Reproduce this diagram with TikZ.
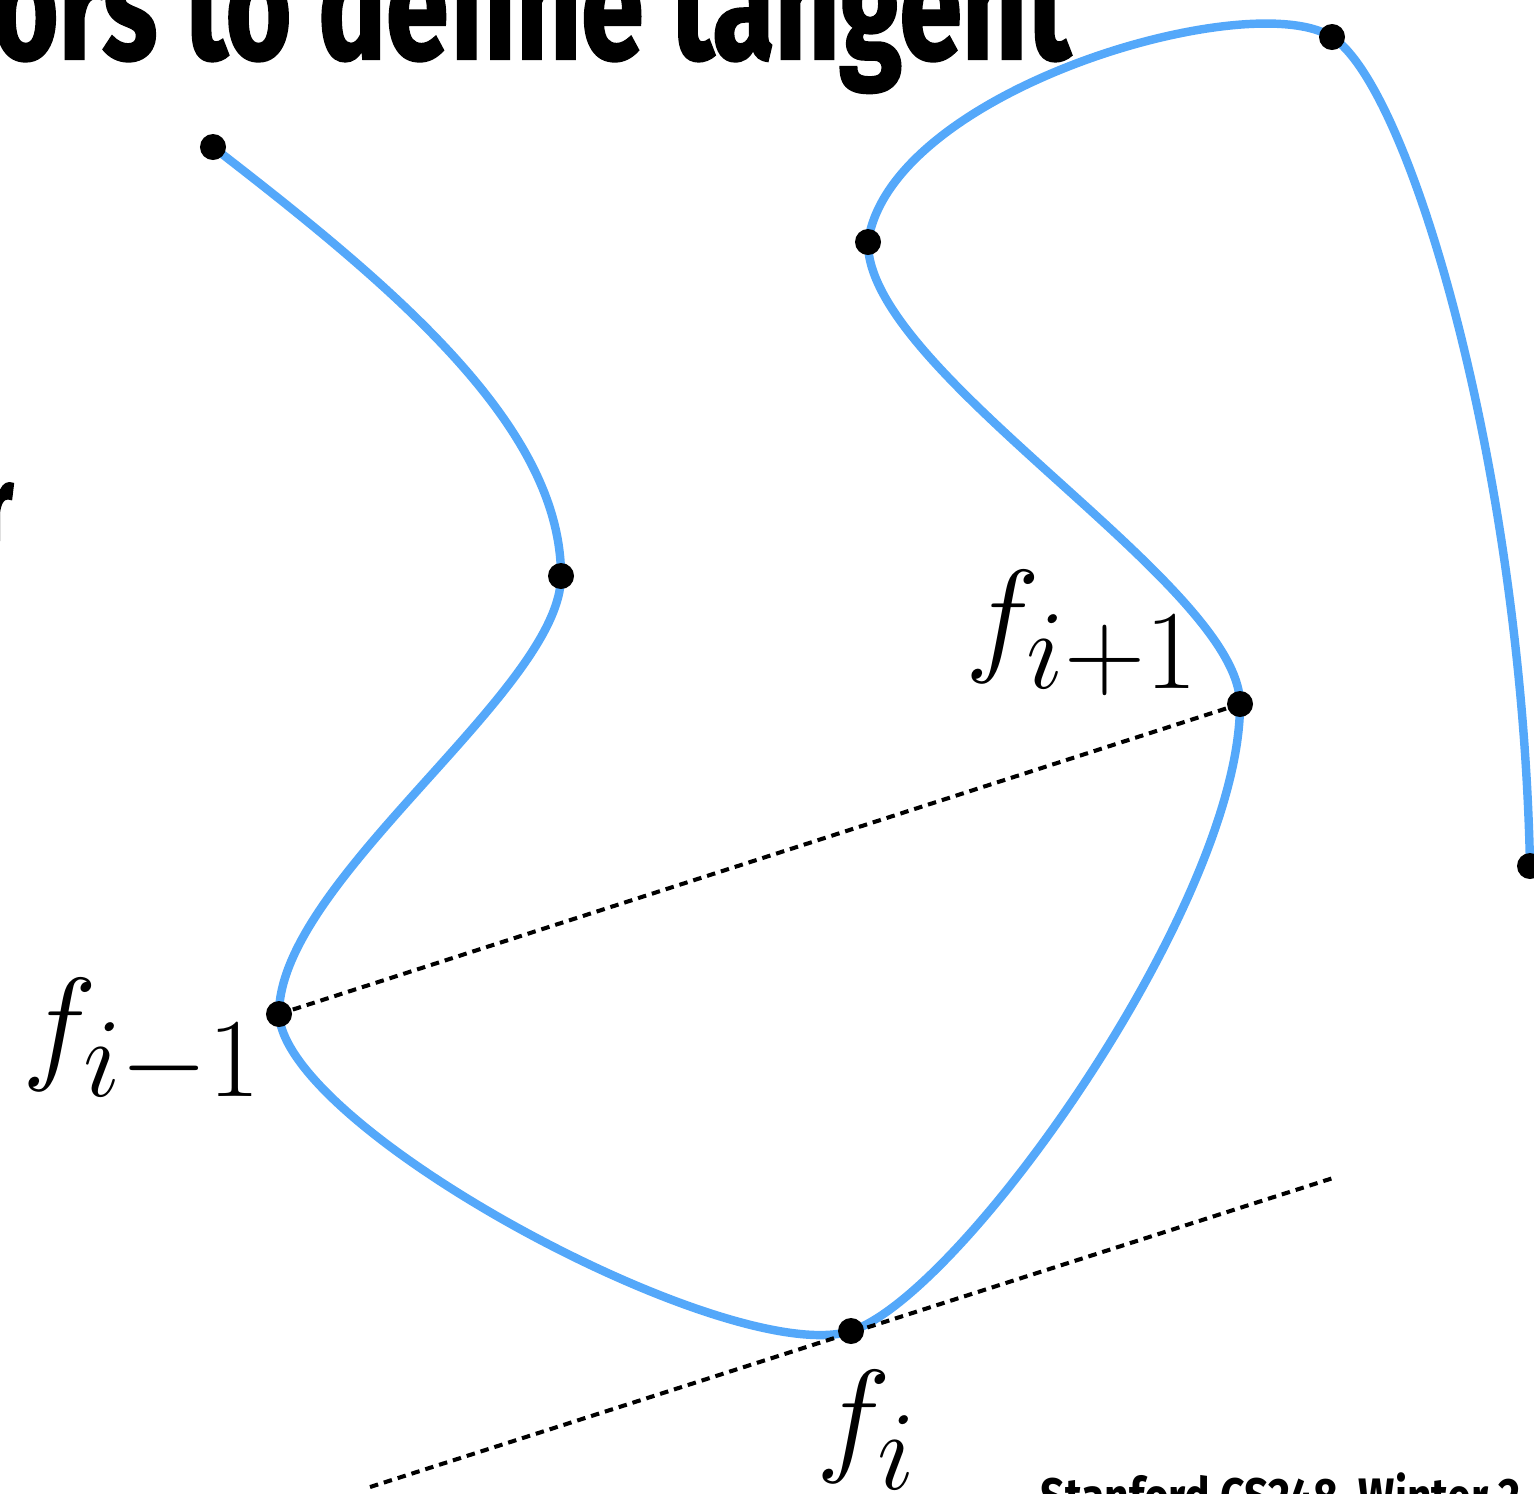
\RequirePackage{fix-cm}
\documentclass[tikz,border=0pt]{standalone}
\usepackage{fontspec}
\usepackage{amsmath}
\usetikzlibrary{positioning}
\newfontfamily\slidefont{Fira Sans}[FakeStretch=0.73,BoldFeatures={FakeBold=1.3}]
\newfontfamily\footfont{Fira Sans}[FakeStretch=0.81]
\definecolor{SplineBlue}{RGB}{84,168,250}
\DeclareMathSizes{36}{36}{32}{24}

\begin{document}
\begin{tikzpicture}[x=0.01cm,y=-0.01cm,
    spline/.style={SplineBlue,line width=2.4pt,line cap=round},
    guide/.style={black,line width=1.15pt,dash pattern=on 0.085cm off 0.06cm},
    knot/.style={circle,fill=black,inner sep=0pt,minimum size=0.26cm},
    lbl/.style={inner sep=0pt,font=\fontsize{36}{40}\selectfont}]
  \clip (0,0) rectangle (1534,1493);
  \node[anchor=base west,inner sep=0pt,font=\slidefont\bfseries\fontsize{44}{48}\selectfont] (title) at (-8,59) {ors to define tangent};
  \node[anchor=north east,inner sep=0pt,font=\slidefont\bfseries\fontsize{30}{34}\selectfont] (cut) at (14,482) {r};
  \node[anchor=base west,inner sep=0pt,font=\footfont\bfseries\fontsize{15}{17}\selectfont] (footer) at (1040,1515) {Stanford CS248, Winter 2};
  \coordinate (p1) at (213,147);
  \coordinate (p2) at (561,576);
  \coordinate (p3) at (279,1014);
  \coordinate (p4) at (851,1331);
  \coordinate (p5) at (1240,704);
  \coordinate (p6) at (868,242);
  \coordinate (p7) at (1332,37);
  \coordinate (p8) at (1530,866);
  \coordinate (t1) at (370,1487);
  \coordinate (t2) at (1333,1178);
  \draw[spline] (p1) .. controls (393,286) and (561,426) .. (p2)
    .. controls (561,690) and (279,880) .. (p3)
    .. controls (285,1130) and (731,1369) .. (p4)
    .. controls (961,1296) and (1240,904) .. (p5)
    .. controls (1240,584) and (866,372) .. (p6)
    .. controls (890,90) and (1250,-15) .. (p7)
    .. controls (1410,87) and (1522,470) .. (p8);
  \draw[guide] (p3) -- (p5);
  \draw[guide] (t1) -- (t2);
  \foreach \k in {1,...,8}
    \node[knot] (k\k) at (p\k) {};
  \node[lbl] (fprev) at (142,1042) {$f_{i-1}$};
  \node[lbl] (fcur) at (867,1430) {$f_i$};
  \node[lbl] (fnext) at (1082,633) {$f_{i+1}$};
\end{tikzpicture}
\end{document}
